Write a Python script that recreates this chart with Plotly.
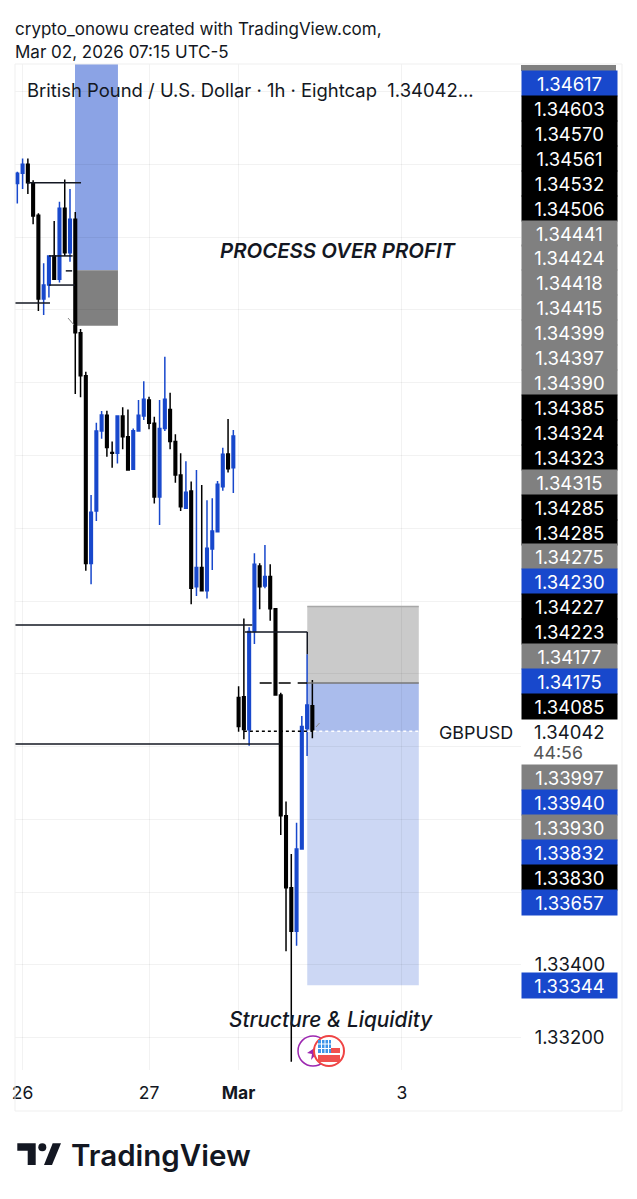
import plotly.graph_objects as go

# hourly bars, left to right
opens = [1.35547, 1.35575, 1.35600, 1.35549, 1.35460, 1.35230, 1.35268, 1.35348, 1.35284, 1.35479,
         1.35357, 1.35449, 1.35137, 1.35019, 1.34503, 1.34647, 1.34867, 1.34910, 1.34808, 1.34806,
         1.34908, 1.34851, 1.34762, 1.34867, 1.34908, 1.34952, 1.34888, 1.34686, 1.34874, 1.34926,
         1.34838, 1.34746, 1.34655, 1.34702, 1.34439, 1.34492, 1.34428, 1.34543, 1.34590, 1.34714,
         1.34804, 1.34766, 1.34135, 1.34137, 1.34046, 1.34316, 1.34496, 1.34441, 1.34467, 1.34379,
         1.34142, 1.33810, 1.33612, 1.33493, 1.33719, 1.34050, 1.34112]
highs = [1.35579, 1.35616, 1.35616, 1.35556, 1.35465, 1.35328, 1.35348, 1.35444, 1.35497, 1.35558,
         1.35532, 1.35469, 1.35147, 1.35030, 1.34691, 1.34890, 1.34922, 1.34923, 1.34838, 1.34908,
         1.34932, 1.34926, 1.34874, 1.34952, 1.35004, 1.34961, 1.34906, 1.34952, 1.35071, 1.34972,
         1.34858, 1.34806, 1.34784, 1.34728, 1.34760, 1.34719, 1.34677, 1.34682, 1.34730, 1.34821,
         1.34900, 1.34870, 1.34166, 1.34352, 1.34328, 1.34531, 1.34504, 1.34554, 1.34501, 1.34380,
         1.34148, 1.33849, 1.33705, 1.33791, 1.34084, 1.34254, 1.34183]
lows = [1.35492, 1.35532, 1.35518, 1.35435, 1.35197, 1.35186, 1.35234, 1.35282, 1.35275, 1.35348,
        1.35332, 1.34969, 1.34960, 1.34483, 1.34446, 1.34620, 1.34846, 1.34796, 1.34766, 1.34778,
        1.34817, 1.34758, 1.34762, 1.34866, 1.34897, 1.34872, 1.34668, 1.34609, 1.34867, 1.34817,
        1.34725, 1.34647, 1.34655, 1.34391, 1.34414, 1.34428, 1.34407, 1.34485, 1.34590, 1.34703,
        1.34753, 1.34697, 1.34041, 1.34020, 1.34002, 1.34282, 1.34377, 1.34435, 1.34346, 1.34140,
        1.33757, 1.33438, 1.33134, 1.33453, 1.33719, 1.33974, 1.34023]
closes = [1.35575, 1.35600, 1.35549, 1.35458, 1.35230, 1.35268, 1.35348, 1.35284, 1.35479, 1.35357,
          1.35449, 1.35137, 1.35019, 1.34503, 1.34644, 1.34867, 1.34911, 1.34822, 1.34806, 1.34908,
          1.34851, 1.34760, 1.34868, 1.34910, 1.34954, 1.34888, 1.34686, 1.34874, 1.34954, 1.34838,
          1.34746, 1.34659, 1.34699, 1.34435, 1.34492, 1.34428, 1.34545, 1.34592, 1.34721, 1.34803,
          1.34763, 1.34853, 1.34055, 1.34047, 1.34316, 1.34501, 1.34439, 1.34467, 1.34379, 1.34142,
          1.33810, 1.33612, 1.33493, 1.33719, 1.34055, 1.34114, 1.34042]

day_ticks = [1, 25, 42, 73]
day_labels = ['26', '27', '<b>Mar</b>', '3']
grid_prices = [1.332, 1.334, 1.336, 1.338, 1.340, 1.342, 1.344, 1.346, 1.348, 1.350, 1.352, 1.354, 1.356, 1.358]
grid_labels = ['1.33200', '1.33400'] + [''] * 12

# stacked price tags on the right
upper_tags = ['1.34617', '1.34603', '1.34570', '1.34561', '1.34532', '1.34506', '1.34441', '1.34424',
              '1.34418', '1.34415', '1.34399', '1.34397', '1.34390', '1.34385', '1.34324', '1.34323',
              '1.34315', '1.34285', '1.34285', '1.34275', '1.34230', '1.34227', '1.34223', '1.34177',
              '1.34175', '1.34085']
upper_kinds = ['b', 'k', 'k', 'k', 'k', 'k', 'g', 'g', 'g', 'g', 'g', 'g', 'g', 'k', 'k', 'k',
               'g', 'k', 'k', 'g', 'b', 'k', 'k', 'g', 'b', 'k']
lower_tags = ['1.33997', '1.33940', '1.33930', '1.33832', '1.33830', '1.33657']
lower_kinds = ['g', 'b', 'g', 'b', 'k', 'b']

BLUE = '#1848CC'
TAG_COLORS = {'b': BLUE, 'k': '#000000', 'g': '#808080'}
FONT = 'Inter'

# pane edges in page pixels
LEFT, RIGHT, TOP, BOTTOM = 15, 521, 64, 1070


def px(x):
    return (x - LEFT) / (RIGHT - LEFT)


def py(y):
    return (BOTTOM - y) / (BOTTOM - TOP)


def poly(points):
    return 'M' + ' L'.join(f'{px(x)},{py(y)}' for x, y in points) + ' Z'


def text(s, x, y, size=17, color='#131722', anchor='left', **kw):
    fig.add_annotation(text=s, xref='paper', yref='paper', x=px(x), y=py(y), xanchor=anchor, yanchor='middle',
                       showarrow=False, font=dict(family=FONT, size=size, color=color, **kw))


def level(x0, x1, y, color='#131722', width=1.5, dash='solid'):
    fig.add_shape(type='line', x0=x0, x1=x1, y0=y, y1=y, line=dict(color=color, width=width, dash=dash))


def zone(x0, x1, y0, y1, color):
    fig.add_shape(type='rect', x0=x0, x1=x1, y0=y0, y1=y1, fillcolor=color, line_width=0, layer='below')


def page_rect(x0, x1, y0, y1, color):
    fig.add_shape(type='rect', xref='paper', yref='paper', x0=px(x0), x1=px(x1), y0=py(y1), y1=py(y0),
                  fillcolor=color, line_width=0)


fig = go.Figure()
fig.add_trace(go.Candlestick(
    x=list(range(len(opens))),
    open=opens, high=highs, low=lows, close=closes,
    increasing=dict(line=dict(color=BLUE, width=1.5), fillcolor=BLUE),
    decreasing=dict(line=dict(color='#000000', width=1.5), fillcolor='#000000'),
    whiskerwidth=0,
    showlegend=False,
))

fig.update_layout(
    width=637,
    height=1199,
    margin=dict(l=LEFT, r=637 - RIGHT, t=TOP, b=1199 - BOTTOM),
    paper_bgcolor='white',
    plot_bgcolor='white',
    showlegend=False,
    font=dict(family=FONT, color='#131722'),
    xaxis=dict(
        range=[-0.44, 95.6],
        rangeslider_visible=False,
        tickvals=day_ticks,
        ticktext=day_labels,
        ticks='outside',
        ticklen=7,
        tickcolor='rgba(0,0,0,0)',
        tickfont=dict(size=17.5, color='#131722'),
        gridcolor='rgba(0,0,0,0.05)',
        zeroline=False,
    ),
    yaxis=dict(
        side='right',
        range=[1.331115, 1.358753],
        tickvals=grid_prices,
        ticktext=grid_labels,
        ticks='outside',
        ticklen=9,
        tickcolor='rgba(0,0,0,0)',
        tickfont=dict(size=18.5, color='#131722'),
        gridcolor='rgba(0,0,0,0.05)',
        zeroline=False,
    ),
)

# position tools
zone(10.95, 19.1, 1.35309, 1.36, 'rgba(24,72,204,0.5)')
zone(10.95, 19.1, 1.35156, 1.35309, '#808080')
zone(55.03, 76.2, 1.34175, 1.34385, 'rgba(128,128,128,0.42)')
zone(55.03, 76.2, 1.34042, 1.34175, 'rgba(24,72,204,0.37)')
zone(55.03, 76.2, 1.33344, 1.34042, 'rgba(24,72,204,0.22)')
level(55.03, 76.2, 1.34385, color='#a8a8a8')
level(55.03, 76.2, 1.34175, color='#777777')
level(55.03, 76.2, 1.34042, color='white', dash='dot')

# structure lines
level(-1, 44.6, 1.34334)
level(43.2, 55.03, 1.34315)
fig.add_shape(type='line', x0=55.03, x1=55.03, y0=1.34315, y1=1.34254, line=dict(color='#131722', width=1.5))
level(-1, 49.85, 1.34007)
level(43, 55.03, 1.34042, color='#000000', dash='dot')
level(46, 55.03, 1.34175, color='#000000', dash='12px,7px')
level(1.84, 12.09, 1.35549)
level(-1, 6.2, 1.35219)
level(6, 10.5, 1.35348)
level(6, 10.95, 1.35268)
level(9.2, 10.4, 1.35307)

# frame round the chart
for x0, y0, x1, y1 in [(LEFT, TOP, 622, TOP), (LEFT, 1111, 622, 1111), (LEFT, TOP, LEFT, 1111), (622, TOP, 622, 1111)]:
    fig.add_shape(type='line', xref='paper', yref='paper', x0=px(x0), x1=px(x1), y0=py(y0), y1=py(y1),
                  line=dict(color='#efefef', width=1))

# small pencil marks
for x0, y0, x1, y1 in [(68, 318, 74, 325), (316, 727, 319.5, 723)]:
    fig.add_shape(type='line', xref='paper', yref='paper', x0=px(x0), x1=px(x1), y0=py(y0), y1=py(y1),
                  line=dict(color='#888888', width=1))

# event badges under the last bars
fig.add_shape(type='circle', xref='paper', yref='paper', x0=px(298), x1=px(328), y0=py(1036), y1=py(1066),
              fillcolor='white', line=dict(color='#9C27B0', width=1.5))
fig.add_shape(type='path', xref='paper', yref='paper', path=poly([(307, 1053), (316, 1047), (314, 1052), (318, 1052), (311, 1060), (312, 1054)]),
              fillcolor='#9C27B0', line_width=0)
fig.add_shape(type='circle', xref='paper', yref='paper', x0=px(314), x1=px(344), y0=py(1036), y1=py(1066),
              fillcolor='white', line=dict(color='#EF4444', width=2))
page_rect(318, 331, 1040, 1053, '#3E94E8')
page_rect(331, 340, 1048, 1053, '#F0504E')
page_rect(318, 340, 1055, 1062, '#F0504E')
for gx in (321.5, 325, 328.5):
    page_rect(gx - 0.5, gx + 0.5, 1040, 1053, 'white')
for gy in (1044, 1048.5):
    page_rect(318, 331, gy - 0.5, gy + 0.5, 'white')

# logo
fig.add_shape(type='path', xref='paper', yref='paper', fillcolor='#131722', line_width=0,
              path=poly([(17.3, 1143.3), (35.7, 1143.3), (35.7, 1165), (27.7, 1165), (27.7, 1150.7), (17.3, 1150.7)]))
fig.add_shape(type='circle', xref='paper', yref='paper', fillcolor='#131722', line_width=0,
              x0=px(38.3), x1=px(46.3), y0=py(1151.3), y1=py(1143.3))
fig.add_shape(type='path', xref='paper', yref='paper', fillcolor='#131722', line_width=0,
              path=poly([(52.7, 1143.3), (61, 1143.3), (52, 1165), (44, 1165)]))

# price tags
page_rect(521, 616, 65, 71, '#808080')
for tags, kinds, first in [(upper_tags, upper_kinds, 83.5), (lower_tags, lower_kinds, 777.5)]:
    for i, (tag, kind) in enumerate(zip(tags, kinds)):
        fig.add_annotation(text=tag, xref='paper', yref='paper', x=px(521), y=py(first + i * 24.92),
                           xanchor='left', yanchor='middle', showarrow=False, width=95, height=25, align='center',
                           bgcolor=TAG_COLORS[kind], borderpad=0,
                           font=dict(family=FONT, size=18.5, color='white'))
fig.add_annotation(text='1.33344', xref='paper', yref='paper', x=px(521), y=py(985), xanchor='left', yanchor='middle',
                   showarrow=False, width=95, height=25, align='center', bgcolor=BLUE, borderpad=0,
                   font=dict(family=FONT, size=18.5, color='white'))

text('1.34042', 532, 732, size=18.5)
text('44:56', 531, 752, size=17.8, color='#555555')
text('GBPUSD', 437, 732, size=17.9)

text('crypto_onowu created with TradingView.com,', 13, 29, size=17)
text('Mar 02, 2026 07:15 UTC-5', 13, 52, size=17)
text('British Pound / U.S. Dollar · 1h · Eightcap&nbsp;&nbsp;1.34042...', 25, 90, size=18.45)
text('PROCESS OVER PROFIT', 218, 250, size=20.4, style='italic', weight=600)
text('Structure &amp; Liquidity', 227, 1019, size=20.8, style='italic', weight=500)
text('TradingView', 69, 1155, size=29.5, weight=600)

fig.write_html('out.html', config={'displayModeBar': False},
               post_script="document.body.style.margin='0';")
